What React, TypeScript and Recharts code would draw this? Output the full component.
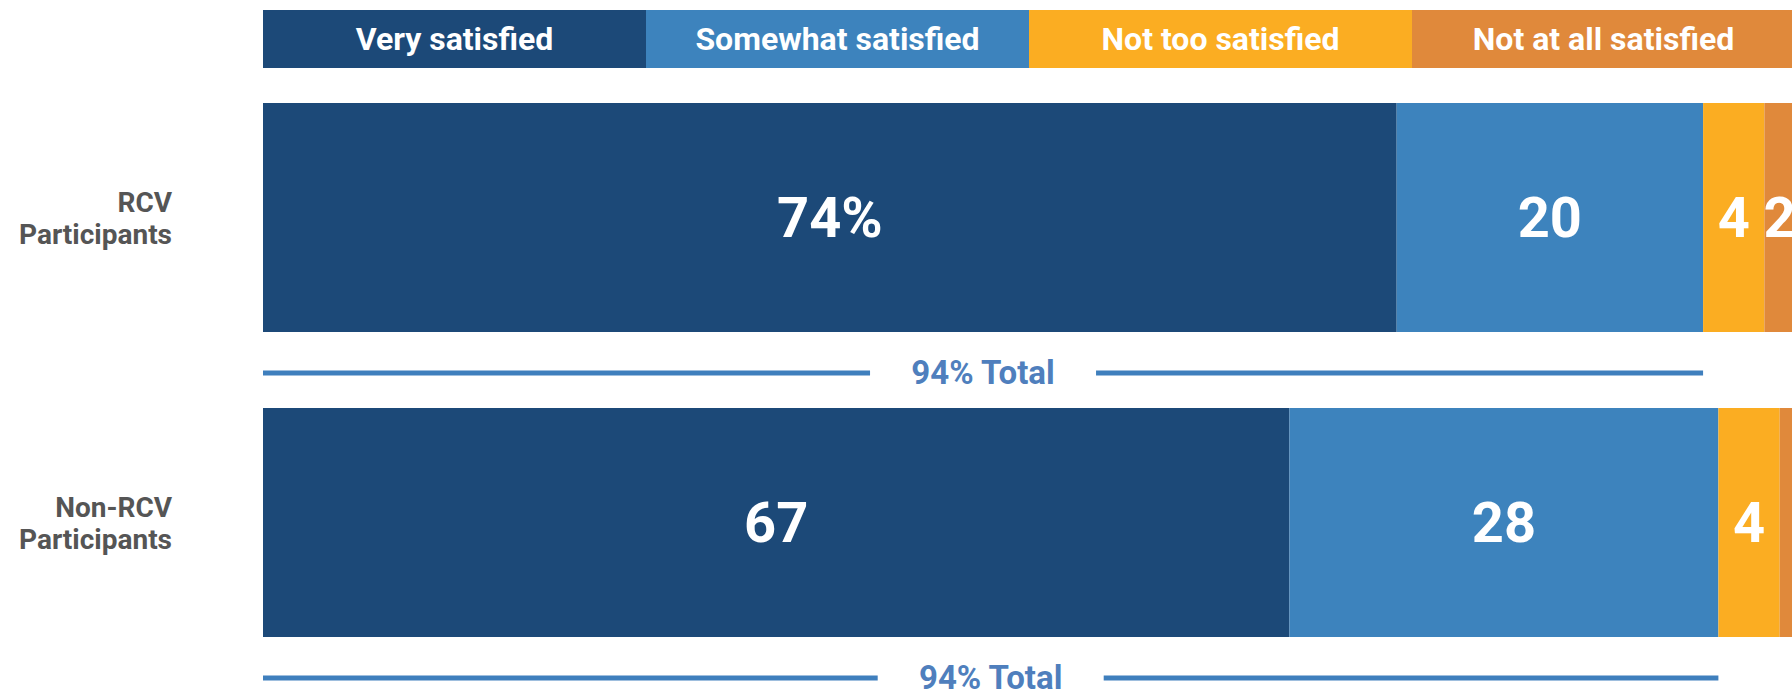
import { BarChart, Bar, XAxis, YAxis, Legend, LabelList } from 'recharts';

const groups = ['RCV Participants', 'Non-RCV Participants'];
const seriesNames = ['Very satisfied', 'Somewhat satisfied', 'Not too satisfied', 'Not at all satisfied'];
const verySatisfied = [74, 67];
const somewhatSatisfied = [20, 28];
const notTooSatisfied = [4, 4];
const notAtAllSatisfied = [2, 1];
const veryLabels = ['74%', '67'];
const somewhatLabels = ['20', '28'];
const notTooLabels = ['4', '4'];
const notAtAllLabels = ['2', ''];
const totalLabels = ['94% Total', '94% Total'];

const colors = ['#1c4978', '#3d83bd', '#fbad22', '#e0893b'];
const FONT = 'Roboto, "DejaVu Sans", sans-serif';

const data = groups.map((name, i) => ({
  name,
  very: verySatisfied[i],
  somewhat: somewhatSatisfied[i],
  notToo: notTooSatisfied[i],
  notAtAll: notAtAllSatisfied[i],
  veryLabel: veryLabels[i],
  somewhatLabel: somewhatLabels[i],
  notTooLabel: notTooLabels[i],
  notAtAllLabel: notAtAllLabels[i],
  // the bracket under each bar spans the two "satisfied" segments
  total: verySatisfied[i] + somewhatSatisfied[i],
  totalLabel: totalLabels[i],
}));

const GroupTick = (props: any) => {
  const { x, y, payload } = props;
  const parts = String(payload.value).split(' ');
  return (
    <text x={x} y={y} textAnchor="end" fill="#555555" fontSize={28} fontWeight={700} fontFamily={FONT}>
      <tspan x={x} dy={-6}>{parts[0]}</tspan>
      <tspan x={x} dy={32}>{parts[1]}</tspan>
    </text>
  );
};

const StripLegend = (props: any) => {
  const items = (props.payload || [])
    .filter((p: any) => p.type !== 'none')
    .sort((a: any, b: any) => seriesNames.indexOf(a.value) - seriesNames.indexOf(b.value));
  return (
    <div style={{ display: 'flex', height: 58 }}>
      {items.map((p: any) => (
        <div
          key={p.value}
          style={{
            flex: 1,
            background: p.color,
            color: '#ffffff',
            display: 'flex',
            alignItems: 'center',
            justifyContent: 'center',
            fontSize: 32,
            fontWeight: 700,
            fontFamily: FONT,
          }}
        >
          {p.value}
        </div>
      ))}
    </div>
  );
};

const TotalBracket = (props: any) => {
  const { x, y, width, height, payload } = props;
  const ly = y + height + 41;
  const cx = x + width / 2;
  const gap = 113;
  return (
    <g>
      <line x1={x} x2={cx - gap} y1={ly} y2={ly} stroke="#3f7fbd" strokeWidth={5} />
      <line x1={cx + gap} x2={x + width} y1={ly} y2={ly} stroke="#3f7fbd" strokeWidth={5} />
      <text x={cx} y={ly + 11} textAnchor="middle" fill="#4f7fbd" fontSize={33} fontWeight={700} fontFamily={FONT}>
        {payload.totalLabel}
      </text>
    </g>
  );
};

const valueLabel = { fill: '#ffffff', fontSize: 56, fontWeight: 700, fontFamily: FONT };

export default function App() {
  return (
    <div style={{ position: 'fixed', left: 0, top: 0, width: 1792, height: 691, overflow: 'hidden', background: '#ffffff' }}>
      <BarChart
        width={1800}
        height={691}
        data={data}
        layout="vertical"
        margin={{ top: 65, right: 5, bottom: 16, left: 0 }}
      >
        <XAxis type="number" domain={[0, 100]} hide />
        <YAxis
          yAxisId="main"
          type="category"
          dataKey="name"
          width={263}
          axisLine={false}
          tickLine={false}
          tickSize={0}
          tickMargin={91}
          tick={<GroupTick />}
        />
        <YAxis yAxisId="total" type="category" dataKey="name" hide />
        <Legend
          verticalAlign="middle"
          align="center"
          content={<StripLegend />}
          wrapperStyle={{ top: 10, left: 263, width: 1532, height: 58 }}
        />
        <Bar yAxisId="main" dataKey="very" name={seriesNames[0]} stackId="s" fill={colors[0]} barSize={229} isAnimationActive={false}>
          <LabelList dataKey="veryLabel" position="center" {...valueLabel} />
        </Bar>
        <Bar yAxisId="main" dataKey="somewhat" name={seriesNames[1]} stackId="s" fill={colors[1]} barSize={229} isAnimationActive={false}>
          <LabelList dataKey="somewhatLabel" position="center" {...valueLabel} />
        </Bar>
        <Bar yAxisId="main" dataKey="notToo" name={seriesNames[2]} stackId="s" fill={colors[2]} barSize={229} isAnimationActive={false}>
          <LabelList dataKey="notTooLabel" position="center" {...valueLabel} />
        </Bar>
        <Bar yAxisId="main" dataKey="notAtAll" name={seriesNames[3]} stackId="s" fill={colors[3]} barSize={229} isAnimationActive={false}>
          <LabelList dataKey="notAtAllLabel" position="center" {...valueLabel} />
        </Bar>
        <Bar
          yAxisId="total"
          dataKey="total"
          legendType="none"
          barSize={229}
          shape={<TotalBracket />}
          isAnimationActive={false}
        />
      </BarChart>
    </div>
  );
}
